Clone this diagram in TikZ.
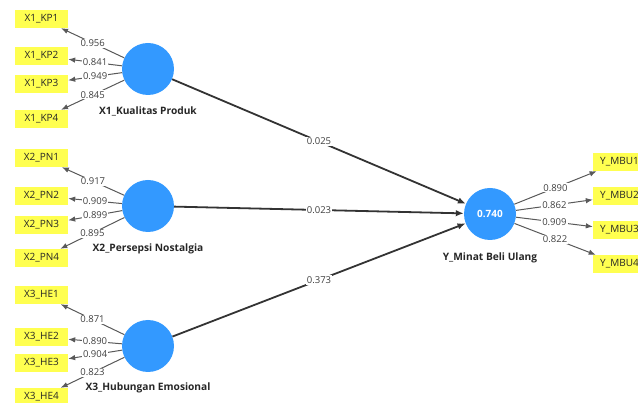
\documentclass[tikz,border=0pt]{standalone}
\usepackage{fontspec}
\setmainfont{Open Sans}
\usepackage{xcolor}
\usepackage{tikz}
\usetikzlibrary{arrows.meta}

\definecolor{lvblue}{RGB}{51,153,255}
\definecolor{mvyellow}{RGB}{255,255,80}

\tikzset{
  latent/.style={circle,fill=lvblue,minimum size=52pt,inner sep=0pt,text=white,font=\fontsize{10}{11}\selectfont\bfseries},
  indicator/.style={fill=mvyellow,minimum width=53pt,minimum height=18pt,inner sep=0pt,text=black!85,font=\fontsize{10}{11}\selectfont},
  lvname/.style={font=\fontsize{10.2}{11}\selectfont\bfseries,text=black!85},
  loading/.style={draw=black!65,line width=1pt,-{Latex[length=7pt,width=5.5pt]}},
  structural/.style={draw=black!80,line width=1.8pt,-{Latex[length=8pt,width=6.5pt]}},
  coef/.style={fill=white,inner sep=1pt,font=\fontsize{9.5}{10}\selectfont,text=black!75}
}

\begin{document}
\begin{tikzpicture}[x=1pt,y=-1pt]
\useasboundingbox (0,0) rectangle (638,403);
\clip (0,0) rectangle (638,403);

% latent variables
\node [latent] (x1) at (148,69) {};
\node [latent] (x2) at (148,206) {};
\node [latent] (x3) at (148,346) {};
\node [latent] (y) at (490,214) {0.740};
\node [lvname] (x1name) at (148,111) {X1\_Kualitas Produk};
\node [lvname] (x2name) at (148,249) {X2\_Persepsi Nostalgia};
\node [lvname] (x3name) at (148,388) {X3\_Hubungan Emosional};
\node [lvname] (yname) at (490,258) {Y\_Minat Beli Ulang};

% indicators
\node [indicator] (kp1) at (41.5,19) {X1\_KP1};
\node [indicator] (kp2) at (41.5,56) {X1\_KP2};
\node [indicator] (kp3) at (41.5,84) {X1\_KP3};
\node [indicator] (kp4) at (41.5,119) {X1\_KP4};
\node [indicator] (pn1) at (41.5,158) {X2\_PN1};
\node [indicator] (pn2) at (41.5,196) {X2\_PN2};
\node [indicator] (pn3) at (41.5,225) {X2\_PN3};
\node [indicator] (pn4) at (41.5,258) {X2\_PN4};
\node [indicator] (he1) at (41.5,295) {X3\_HE1};
\node [indicator] (he2) at (41.5,337) {X3\_HE2};
\node [indicator] (he3) at (41.5,363) {X3\_HE3};
\node [indicator] (he4) at (41.5,397) {X3\_HE4};
\node [indicator] (mbu1) at (619.5,162) {Y\_MBU1};
\node [indicator] (mbu2) at (619.5,196) {Y\_MBU2};
\node [indicator] (mbu3) at (619.5,230) {Y\_MBU3};
\node [indicator] (mbu4) at (619.5,264) {Y\_MBU4};

% outer loadings
\draw [loading] (x1) -- node[coef] {0.956} (kp1);
\draw [loading] (x1) -- node[coef] {0.841} (kp2);
\draw [loading] (x1) -- node[coef] {0.949} (kp3);
\draw [loading] (x1) -- node[coef] {0.845} (kp4);
\draw [loading] (x2) -- node[coef] {0.917} (pn1);
\draw [loading] (x2) -- node[coef] {0.909} (pn2);
\draw [loading] (x2) -- node[coef] {0.899} (pn3);
\draw [loading] (x2) -- node[coef] {0.895} (pn4);
\draw [loading] (x3) -- node[coef] {0.871} (he1);
\draw [loading] (x3) -- node[coef] {0.890} (he2);
\draw [loading] (x3) -- node[coef] {0.904} (he3);
\draw [loading] (x3) -- node[coef] {0.823} (he4);
\draw [loading] (y) -- node[coef] {0.890} (mbu1);
\draw [loading] (y) -- node[coef] {0.862} (mbu2);
\draw [loading] (y) -- node[coef] {0.909} (mbu3);
\draw [loading] (y) -- node[coef] {0.822} (mbu4);

% path coefficients
\draw [structural] (x1) -- node[coef] {0.025} (y);
\draw [structural] (x2) -- node[coef] {0.023} (y);
\draw [structural] (x3) -- node[coef] {0.373} (y);
\end{tikzpicture}
\end{document}
